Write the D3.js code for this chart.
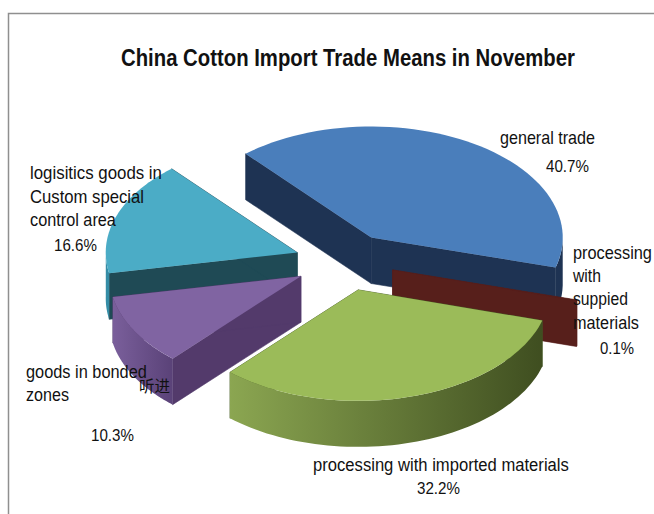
<!DOCTYPE html>
<html>
<head>
<meta charset="utf-8">
<script src="https://cdn.jsdelivr.net/npm/d3@7"></script>
<style>
  html, body { margin: 0; padding: 0; background: #fff; }
  svg { display: block; }
  text { font-family: "Liberation Sans", Arial, sans-serif; fill: #111; }
</style>
</head>
<body>
<svg id="chart" width="654" height="514"></svg>
<script>
// Share of China's November cotton imports by trade means, in pie order (clockwise).
const categories = ["general trade", "processing with suppied materials", "processing with imported materials", "goods in bonded zones", "logisitics goods in Custom special control area"];
const shares = [40.7, 0.1, 32.2, 10.3, 16.6];
const title = "China Cotton Import Trade Means in November";

// Tilted pie geometry.
const W = 654, H = 514;
const center = [344.5, 262];
const radiusX = 191.5, radiusY = 111, depth = 46, explode = 50;
const firstAngle = -41 * Math.PI / 180;

const palette = {
  "general trade": { top: "#4a7ebb", wall: "#1e3353", outerA: "#1e3353", outerB: "#1e3353" },
  "processing with suppied materials": { top: "#571f1b", wall: "#571f1b", outerA: "#571f1b", outerB: "#571f1b" },
  "processing with imported materials": { top: "#9bbb59", wall: "#465a26", outerA: "#8ba651", outerB: "#3f4e20" },
  "goods in bonded zones": { top: "#8064a2", wall: "#533a6b", outerA: "#7a5f9b", outerB: "#5a4278" },
  "logisitics goods in Custom special control area": { top: "#4bacc6", wall: "#1f4a55", outerA: "#358da6", outerB: "#358da6" }
};
// Painter's order, rear slices first.
const drawOrder = [0, 4, 1, 3, 2];

const svg = d3.select("#chart");
const defs = svg.append("defs");

// Chart area border: top and left edges only remain in frame.
svg.append("path")
  .attr("d", d3.line()([[8.5, H], [8.5, 13.5], [W, 13.5]]))
  .attr("fill", "none").attr("stroke", "#8f8f8f").attr("stroke-width", 1.5);

const pie = d3.pie().sort(null).value(d => d)
  .startAngle(firstAngle).endAngle(firstAngle + 2 * Math.PI);
const arcs = pie(shares);

// Angles run clockwise from twelve o'clock, as in d3.pie.
const scaleX = d3.scaleLinear().domain([-1, 1]).range([-radiusX, radiusX]);
const scaleY = d3.scaleLinear().domain([-1, 1]).range([-radiusY, radiusY]);
const project = (apex, a, dy = 0) => [apex[0] + scaleX(Math.sin(a)), apex[1] - scaleY(Math.cos(a)) + dy];
const line = d3.line();

arcs.forEach((d, i) => { d.name = categories[i]; });

drawOrder.forEach((idx, n) => {
  const d = arcs[idx];
  const c = palette[d.name];
  const mid = (d.startAngle + d.endAngle) / 2;
  const apex = [
    center[0] + explode * Math.sin(mid),
    center[1] - explode * (radiusY / radiusX) * Math.cos(mid)
  ];
  const rim = d3.range(0, 61).map(k => d.startAngle + (d.endAngle - d.startAngle) * k / 60);
  const g = svg.append("g").attr("class", "slice");

  // Radial walls; the hairline stroke closes the seam where they meet at the apex.
  [d.startAngle, d.endAngle].forEach(a => {
    const p = project(apex, a);
    g.append("path")
      .attr("d", line([apex, p, [p[0], p[1] + depth], [apex[0], apex[1] + depth]]) + "Z")
      .attr("fill", c.wall).attr("stroke", c.wall).attr("stroke-width", 0.6);
  });

  // Outer wall on the part of the rim that faces the viewer.
  const front = rim.filter(a => Math.cos(a) < 0.02);
  if (front.length > 1) {
    const upper = front.map(a => project(apex, a));
    const lower = front.map(a => project(apex, a, depth)).reverse();
    const xs = upper.map(p => p[0]);
    const id = "outer" + n;
    const grad = defs.append("linearGradient").attr("id", id)
      .attr("gradientUnits", "userSpaceOnUse")
      .attr("x1", d3.min(xs)).attr("x2", d3.max(xs)).attr("y1", 0).attr("y2", 0);
    grad.append("stop").attr("offset", 0).attr("stop-color", c.outerA);
    grad.append("stop").attr("offset", 1).attr("stop-color", c.outerB);
    g.append("path").attr("d", line(upper.concat(lower)) + "Z").attr("fill", `url(#${id})`);
  }

  // Top face.
  g.append("path")
    .attr("d", line([apex].concat(rim.map(a => project(apex, a)))) + "Z")
    .attr("fill", c.top);
});

// Draws one run of text squeezed horizontally to the wanted width.
function fitted(str, x, y, width, size, weight) {
  const t = svg.append("text").text(str)
    .attr("font-size", size).attr("font-weight", weight || "normal");
  const natural = t.node().getComputedTextLength();
  t.attr("transform", `translate(${x},${y}) scale(${width / natural},1)`);
  return t;
}

// Title and slice labels.
fitted(title, 121, 66, 454, 23.5, "bold");

const fmt = v => v.toFixed(1) + "%";
const labelLines = [
  ["general trade"],
  ["processing", "with", "suppied", "materials"],
  ["processing with imported materials"],
  ["goods in bonded", "zones"],
  ["logisitics goods in", "Custom special", "control area"]
];
const labelPlacement = [
  { vx: 546, vy: 172, x: 500, ys: [144], ws: [95] },
  { vx: 600, vy: 354, x: 573, ys: [259, 282, 305, 329], ws: [79, 28, 55, 66] },
  { vx: 417, vy: 494, x: 313, ys: [471], ws: [256] },
  { vx: 91, vy: 441, x: 26, ys: [378, 401], ws: [121, 43] },
  { vx: 54, vy: 251, x: 30, ys: [179, 203, 226], ws: [132, 114, 86] }
];
labelLines.forEach((rows, i) => {
  const place = labelPlacement[i];
  rows.forEach((row, r) => fitted(row, place.x, place.ys[r], place.ws[r], 18.5));
  fitted(fmt(shares[i]), place.vx, place.vy, shares[i] < 1 ? 34 : 43, 16);
});

// Stray annotation sitting over the bonded-zones slice.
svg.append("text").text("听进")
  .attr("x", 139).attr("y", 392).attr("font-size", 15.5)
  .style("font-family", '"Noto Sans CJK SC"');
</script>
</body>
</html>
